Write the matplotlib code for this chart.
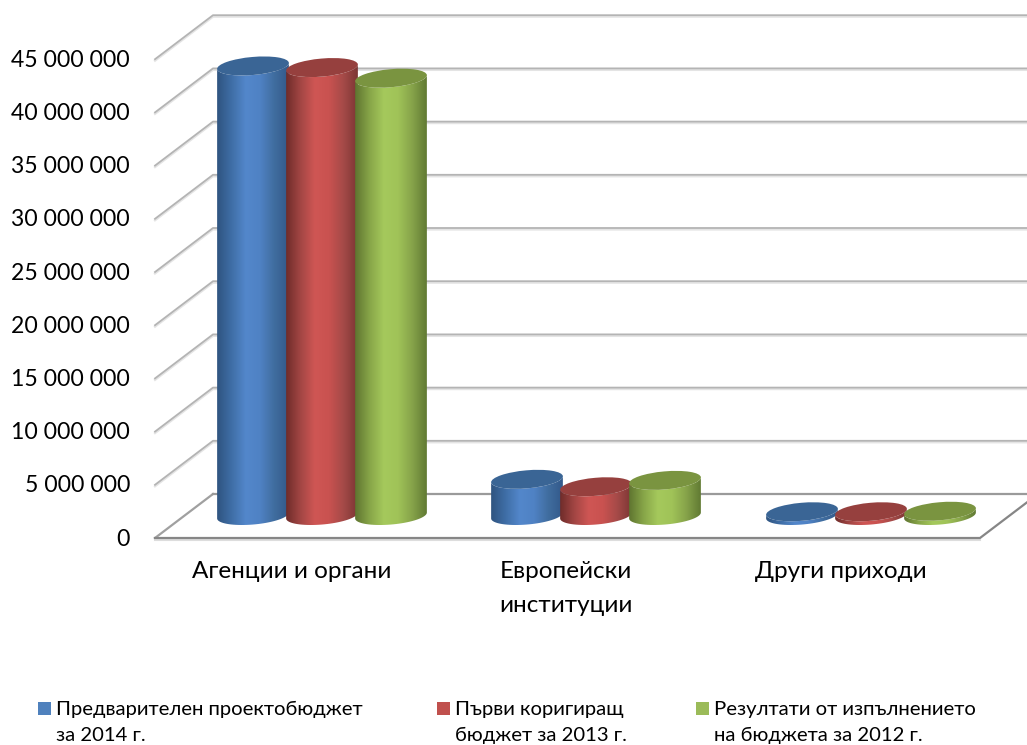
import numpy as np
import matplotlib
matplotlib.use('Agg')
import matplotlib.pyplot as plt
from matplotlib.colors import LinearSegmentedColormap
from matplotlib.patches import Ellipse, Polygon, Rectangle

plt.rcParams['font.family'] = ['Lato', 'Noto Sans', 'DejaVu Sans']

# Values
categories = ['Агенции и органи', 'Европейски\nинституции', 'Други приходи']
series_names = ['Предварителен проектобюджет\nза 2014 г.',
                'Първи коригиращ\nбюджет за 2013 г.',
                'Резултати от изпълнението\nна бюджета за 2012 г.']
budget_2014 = [42250000, 3400000, 350000]
budget_2013 = [42100000, 2700000, 350000]
result_2012 = [41100000, 3300000, 400000]
ticks = [0, 5000000, 10000000, 15000000, 20000000, 25000000,
         30000000, 35000000, 40000000, 45000000]

# Layout of the 3D box, in pixels
x_front, x_end, y_zero = 155, 980, 538
dx, dy = 58, 44
px_per_unit = 53.2 / 5000000
bar_w, ell_h, tilt = 72, 18, -5
bar_base = 515.5
cat_x = [322, 596, 871]
bar_step = 69

face_colors = [
    ['#2f5480', '#3f6ea6', '#5387cb', '#4f82c4', '#406d9f', '#33598a'],
    ['#6f2c2a', '#a34644', '#cf5654', '#c95250', '#a54a48', '#7c3634'],
    ['#5f7530', '#87a548', '#a5c95c', '#a0c358', '#86a34a', '#617a33'],
]
top_colors = ['#3a6595', '#96403e', '#7a9440']
legend_colors = ['#4f81bd', '#c0504d', '#9bbb59']
legend_x = [38, 437, 696]


def val_y(v, base=y_zero):
    return base - v * px_per_unit


def ellipse_pts(cx, cy, t):
    a, b = bar_w / 2, ell_h / 2
    th = np.radians(tilt)
    x = cx + a * np.cos(t) * np.cos(th) - b * np.sin(t) * np.sin(th)
    y = cy + a * np.cos(t) * np.sin(th) + b * np.sin(t) * np.cos(th)
    return np.column_stack([x, y])


def draw_cylinder(ax, cx, value, colors, top_color):
    cy_top = val_y(value, bar_base)
    t = np.linspace(0, np.pi, 40)
    low = ellipse_pts(cx, bar_base, t)
    up = ellipse_pts(cx, cy_top, t[::-1])
    body = Polygon(np.vstack([low, up]), closed=True, fc='none', ec='none',
                   transform=ax.transData)
    ax.add_patch(body)
    cmap = LinearSegmentedColormap.from_list('c', colors)
    im = ax.imshow(np.linspace(0, 1, 128).reshape(1, -1), cmap=cmap, aspect='auto',
                   extent=[cx - bar_w / 2, cx + bar_w / 2, bar_base + 12, cy_top - 12],
                   zorder=3)
    im.set_clip_path(body)
    ax.add_patch(Ellipse((cx, cy_top), bar_w, ell_h, angle=tilt, fc=top_color,
                         ec='none', zorder=3))


fig = plt.figure(figsize=(10.27, 7.45), dpi=100)
ax = fig.add_axes([0, 0, 1, 1])

# walls: grid lines with a soft shadow
for v in ticks:
    y = val_y(v)
    xs = [x_front, x_front + dx, 1040]
    ys = [y, y - dy, y - dy]
    if v == 0:
        ax.plot(xs[:2], ys[:2], color='#a0a0a0', lw=1.6, zorder=1)
        ax.plot(xs[1:], ys[1:], color='#9a9a9a', lw=1.6, zorder=1)
    else:
        ax.plot(xs, np.array(ys) + 1.5, color='#e4e4e4', lw=1.6, zorder=1)
        ax.plot(xs, ys, color='#b4b4b4', lw=1.3, zorder=1)

# floor front edge and right side
ax.plot([x_front, x_end], [y_zero + 1.5, y_zero + 1.5], color='#dddddd', lw=1.5, zorder=1)
ax.plot([x_front, x_end, x_end + dx], [y_zero, y_zero, y_zero - dy],
        color='#868686', lw=1.6, zorder=1)

# cylinders
all_series = [budget_2014, budget_2013, result_2012]
for c, center in enumerate(cat_x):
    for s, values in enumerate(all_series):
        draw_cylinder(ax, center + (s - 1) * bar_step, values[c],
                      face_colors[s], top_colors[s])

# axis texts
for v in ticks:
    label = f'{v:,}'.replace(',', ' ')
    ax.text(130, val_y(v) + 1, label, ha='right', va='center', fontsize=16.6, color='black')

for center, name in zip(cat_x, categories):
    ax.text(center - 30, 561, name, ha='center', va='top', fontsize=17.5,
            color='black', linespacing=1.75, multialignment='center')

# legend
for x, color, name in zip(legend_x, legend_colors, series_names):
    ax.add_patch(Rectangle((x, 702), 13, 13, fc=color, ec='none'))
    ax.text(x + 18, 701, name, ha='left', va='top', fontsize=14.6, color='black',
            linespacing=1.66)

ax.set_xlim(0, 1027)
ax.set_ylim(745, 0)
ax.axis('off')

fig.savefig('out.png', dpi=100)
